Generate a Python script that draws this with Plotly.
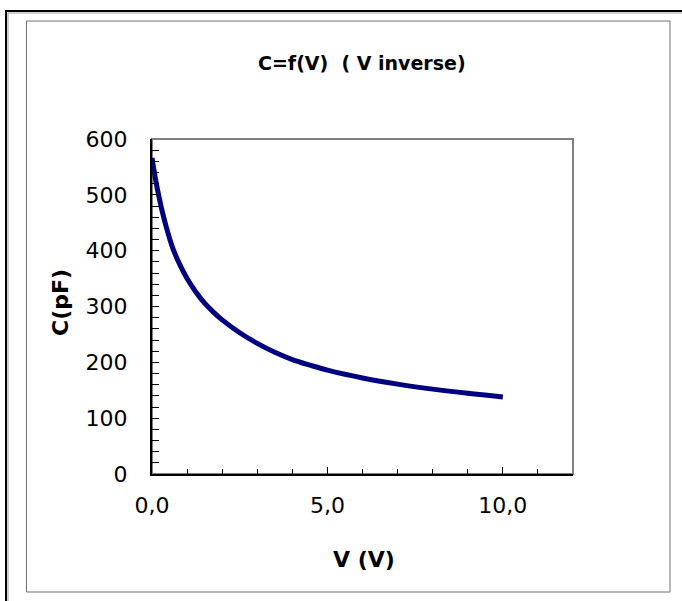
import plotly.graph_objects as go

# Data
voltage_v = [0, 0.1, 0.2, 0.3, 0.4, 0.6, 0.8, 1.0, 1.25, 1.5, 1.75, 2.0, 2.5, 3.0,
             3.5, 4.0, 4.5, 5.0, 6.0, 7.0, 8.0, 9.0, 10.0]
capacitance_pf = [566, 528, 496, 468, 444, 403, 374, 350, 326, 306, 290, 276, 253, 234,
                  218, 205, 195, 186, 172, 161, 152, 144.5, 138]

title_text = "C=f(V)  ( V inverse)"
x_title = "V (V)"
y_title = "C(pF)"

W, H = 682, 601
L, R, T, B = 152, 573, 139, 474  # plot area pixel box


def px(X):
    return (X - L) / (R - L)


def py(Y):
    return (B - Y) / (B - T)


FONT = "DejaVu Sans, Liberation Sans, Arial, sans-serif"

fig = go.Figure()
fig.add_trace(go.Scatter(
    x=voltage_v, y=capacitance_pf, mode="lines",
    line=dict(color="#000080", width=5, shape="spline", smoothing=1.0),
    hoverinfo="x+y", showlegend=False,
))

axis_common = dict(
    showline=True, linecolor="black", linewidth=2,
    ticks="inside", tickwidth=1, tickcolor="black",
    showgrid=False, zeroline=False,
    tickfont=dict(family=FONT, size=22, color="black"),
)

fig.update_xaxes(range=[0, 12], dtick=5, tick0=0, tickformat=".1f", ticklen=7,
                 minor=dict(dtick=1, ticks="inside", ticklen=5, tickwidth=1, tickcolor="black"),
                 ticklabelstandoff=11, **axis_common)
fig.update_yaxes(range=[0, 600], dtick=100, tick0=0, ticklen=7,
                 minor=dict(dtick=20, ticks="inside", ticklen=7, tickwidth=1, tickcolor="black"),
                 ticklabelstandoff=18, **axis_common)

shapes = [
    # outer frame (black with a light inner shadow)
    dict(type="rect", xref="paper", yref="paper",
         x0=px(6), x1=px(720), y0=py(640), y1=py(11),
         line=dict(color="black", width=2), layer="below"),
    dict(type="rect", xref="paper", yref="paper",
         x0=px(8), x1=px(720), y0=py(640), y1=py(13),
         line=dict(color="#a0a0a0", width=1), layer="below"),
    # inner chart frame
    dict(type="rect", xref="paper", yref="paper",
         x0=px(26.5), x1=px(670), y0=py(592), y1=py(21),
         line=dict(color="#707070", width=1), layer="below"),
    # plot-area frame (gray top/right)
    dict(type="rect", xref="paper", yref="paper",
         x0=0, x1=1, y0=0, y1=1,
         line=dict(color="#808080", width=2), layer="below"),
]

annotations = [
    dict(text=f"<b>{title_text}</b>", x=px(362), y=py(63), xref="paper", yref="paper",
         showarrow=False, xanchor="center", yanchor="middle",
         font=dict(family=FONT, size=19, color="black")),
    dict(text=f"<b>{x_title}</b>", x=px(364), y=py(559), xref="paper", yref="paper",
         showarrow=False, xanchor="center", yanchor="middle",
         font=dict(family=FONT, size=22, color="black")),
    dict(text=f"<b>{y_title}</b>", x=px(60), y=py(303), xref="paper", yref="paper",
         showarrow=False, xanchor="center", yanchor="middle", textangle=-90,
         font=dict(family=FONT, size=22, color="black")),
]

fig.update_layout(
    width=W, height=H,
    margin=dict(l=L, r=W - R, t=T, b=H - B, pad=0),
    paper_bgcolor="white", plot_bgcolor="white",
    separators=",.",
    shapes=shapes, annotations=annotations,
    showlegend=False,
)

fig.write_html("out.html", config={"displayModeBar": False},
               post_script="document.body.style.margin='0px';")
